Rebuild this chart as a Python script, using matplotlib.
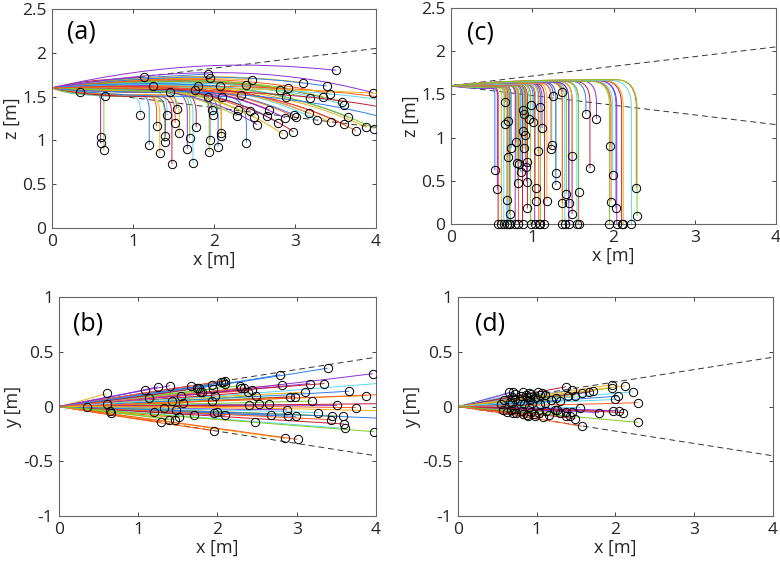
import matplotlib
matplotlib.use('Agg')
import matplotlib.pyplot as plt
from matplotlib.path import Path
from matplotlib.patches import PathPatch

plt.rcParams['font.family'] = ['Open Sans', 'DejaVu Sans']
plt.rcParams['axes.unicode_minus'] = False

# ---------------- data: panels (a)/(b) ----------------
a_x_end = [0.35, 0.66, 0.60, 0.60, 0.64, 1.09, 1.13, 1.20, 1.29, 1.33,
           1.40, 1.39, 1.42, 1.48, 1.54, 1.52, 1.57, 1.67, 1.70, 1.74,
           1.78, 1.93, 1.95, 1.93, 1.95, 1.94, 1.99, 1.97, 2.05, 2.09,
           2.09, 2.10, 2.28, 2.30, 2.39, 2.40, 2.44, 2.47, 2.53, 2.49,
           2.65, 2.68, 2.79, 2.81, 2.85, 2.88, 2.91, 2.89, 2.98, 2.99,
           3.01, 3.10, 3.17, 3.19, 3.27, 3.35, 3.39, 3.43, 3.44, 3.51,
           3.58, 3.61, 3.60, 3.66, 3.75, 3.88, 3.96, 3.98, 4.50, 4.50,
           4.50, 4.40, 4.60, 1.25, 1.46, 1.80, 1.77, 2.07, 2.33]
a_z_end = [1.55, 1.51, 1.04, 0.965, 0.885, 1.29, 1.72, 0.95, 1.16, 0.855,
           1.045, 0.985, 1.285, 0.73, 1.36, 1.20, 1.08, 0.905, 1.025, 0.737,
           1.15, 1.76, 1.71, 1.50, 1.005, 0.87, 1.29, 1.35, 0.93, 1.08,
           1.05, 1.50, 1.28, 1.35, 1.63, 0.975, 1.34, 1.69, 1.18, 1.265,
           1.28, 1.35, 1.20, 1.58, 1.07, 1.255, 1.595, 1.50, 1.10, 1.29,
           1.265, 1.66, 1.31, 1.48, 1.235, 1.49, 1.62, 1.53, 1.205, 1.80,
           1.44, 1.405, 1.185, 1.265, 1.11, 1.15, 1.545, 1.135, 1.40, 1.30,
           1.15, 1.45, 1.50, 1.62, 1.55, 1.62, 1.58, 1.62, 1.52]
a_z_mid = [1.58, 1.56, 1.53, 1.53, 1.52, 1.50, 1.70, 1.52, 1.52, 1.50,
           1.50, 1.50, 1.55, 1.50, 1.55, 1.52, 1.52, 1.55, 1.56, 1.55,
           1.55, 1.72, 1.70, 1.60, 1.55, 1.55, 1.55, 1.55, 1.55, 1.58,
           1.56, 1.62, 1.62, 1.64, 1.68, 1.50, 1.64, 1.72, 1.62, 1.64,
           1.65, 1.66, 1.65, 1.70, 1.62, 1.66, 1.72, 1.68, 1.64, 1.66,
           1.66, 1.76, 1.68, 1.70, 1.68, 1.72, 1.76, 1.74, 1.66, 1.90,
           1.72, 1.70, 1.66, 1.68, 1.66, 1.66, 1.84, 1.68, 1.62, 1.58,
           1.56, 1.64, 1.60, 1.64, 1.58, 1.65, 1.62, 1.66, 1.62]
a_kind = ['g', 'g', 'd', 'd', 'd', 'd', 'g', 'd', 'd', 'd',
          'd', 'd', 'd', 'd', 'd', 'd', 'd', 'd', 'd', 'd',
          'd', 'g', 'g', 'g', 'd', 'd', 'd', 'd', 'd', 'd',
          'd', 'g', 'g', 'g', 'g', 'd', 'g', 'g', 'g', 'g',
          'g', 'g', 'g', 'g', 'g', 'g', 'g', 'g', 'g', 'g',
          'g', 'g', 'g', 'g', 'g', 'g', 'g', 'g', 'g', 'g',
          'g', 'g', 'g', 'g', 'g', 'g', 'g', 'g', 'g', 'g',
          'g', 'g', 'g', 'g', 'g', 'g', 'g', 'g', 'g']
a_y_end = [0.00, -0.06, 0.12, 0.02, -0.04, 0.15, 0.08, -0.05, -0.14, -0.01,
           0.19, -0.12, 0.05, -0.03, 0.10, -0.10, 0.03, 0.19, -0.08, 0.17,
           0.13, 0.20, -0.22, 0.05, -0.06, 0.16, -0.05, 0.10, 0.22, 0.235,
           0.21, -0.08, 0.19, 0.17, 0.13, 0.015, 0.15, -0.14, 0.02, 0.10,
           0.02, -0.08, 0.29, 0.20, -0.29, -0.03, 0.09, -0.09, 0.09, -0.09,
           -0.30, 0.13, 0.21, 0.05, -0.055, 0.21, 0.35, -0.12, -0.09, 0.01,
           -0.09, -0.20, -0.16, 0.14, -0.01, 0.10, 0.30, -0.23, 0.24, 0.03,
           -0.12, 0.12, -0.05, 0.18, -0.12, 0.13, 0.17, 0.22, 0.17]
a_y_mid = [0.01, -0.03, 0.05, 0.01, -0.02, 0.07, 0.04, 0.00, -0.08, 0.02,
           0.10, -0.05, 0.03, 0.00, 0.06, -0.06, 0.02, 0.10, -0.03, 0.08,
           0.08, 0.10, -0.12, 0.03, -0.02, 0.07, -0.02, 0.05, 0.10, 0.12,
           0.10, -0.04, 0.10, 0.08, 0.06, 0.02, 0.08, -0.08, 0.01, 0.04,
           0.01, -0.04, 0.12, 0.10, -0.15, -0.02, 0.04, -0.05, 0.03, -0.05,
           -0.15, 0.08, 0.10, 0.02, -0.02, 0.12, 0.15, -0.06, -0.03, 0.02,
           -0.04, -0.10, -0.08, 0.06, 0.01, 0.05, 0.12, -0.12, 0.10, 0.01,
           -0.05, 0.05, 0.00, 0.08, -0.05, 0.07, 0.07, 0.10, 0.08]

# ---------------- data: panels (c)/(d) ----------------
c_x_end = [0.54, 0.57, 0.58, 0.62, 0.65, 0.67, 0.66, 0.69, 0.70, 0.70,
           0.69, 0.71, 0.72, 0.73, 0.74, 0.79, 0.80, 0.81, 0.82, 0.83,
           0.84, 0.86, 0.88, 0.88, 0.90, 0.89, 0.91, 0.90, 0.92, 0.93,
           0.94, 0.93, 0.96, 0.98, 0.98, 1.01, 1.03, 1.04, 1.04, 1.07,
           1.08, 1.10, 1.10, 1.12, 1.15, 1.18, 1.24, 1.23, 1.29, 1.29,
           1.26, 1.37, 1.37, 1.40, 1.37, 1.42, 1.45, 1.45, 1.49, 1.49,
           1.55, 1.57, 1.57, 1.66, 1.79, 1.71, 1.96, 1.99, 1.97, 1.95,
           2.03, 2.04, 2.10, 2.12, 2.22, 2.28, 2.29]
c_z_end = [0.62, 0.40, 0.0, 0.0, 0.0, 1.41, 1.16, 0.0, 1.19, 0.78,
           0.28, 0.0, 0.115, 0.0, 0.875, 0.0, 0.945, 0.71, 0.47, 0.0,
           0.70, 0.60, 1.32, 0.0, 1.27, 1.08, 1.03, 0.875, 0.66, 0.49,
           0.18, 0.72, 1.21, 1.375, 0.0, 1.175, 0.0, 0.42, 0.27, 0.84,
           0.0, 0.0, 1.355, 1.11, 0.0, 0.27, 0.915, 0.87, 0.595, 0.45,
           1.48, 1.53, 0.0, 0.0, 0.24, 0.345, 0.24, 0.0, 0.115, 0.79,
           0.0, 0.0, 0.365, 1.27, 1.22, 0.645, 0.90, 0.57, 0.26, 0.0,
           0.18, 0.0, 0.0, 0.0, 0.0, 0.42, 0.09]
c_z_top = [1.57, 1.57, 1.58, 1.58, 1.58, 1.59, 1.58, 1.59, 1.59, 1.59,
           1.59, 1.59, 1.59, 1.60, 1.60, 1.60, 1.60, 1.60, 1.60, 1.60,
           1.60, 1.61, 1.61, 1.61, 1.61, 1.61, 1.61, 1.61, 1.61, 1.61,
           1.61, 1.61, 1.62, 1.62, 1.62, 1.62, 1.62, 1.62, 1.62, 1.62,
           1.63, 1.63, 1.63, 1.63, 1.63, 1.63, 1.63, 1.63, 1.64, 1.64,
           1.64, 1.64, 1.64, 1.64, 1.64, 1.64, 1.64, 1.64, 1.65, 1.65,
           1.65, 1.65, 1.65, 1.65, 1.66, 1.65, 1.65, 1.65, 1.65, 1.65,
           1.66, 1.66, 1.66, 1.66, 1.66, 1.67, 1.67]
c_y_end = [0.02, -0.03, 0.06, -0.05, 0.13, -0.03, 0.04, 0.09, 0.135, -0.06,
           0.03, -0.02, 0.11, 0.07, -0.06, 0.05, 0.10, -0.04, 0.13, -0.07,
           0.02, 0.105, 0.09, -0.08, 0.12, -0.09, 0.06, 0.00, 0.09, -0.05,
           0.03, 0.11, -0.07, -0.09, 0.08, 0.135, -0.06, 0.105, 0.02, 0.12,
           -0.10, 0.105, 0.03, -0.04, -0.08, 0.06, 0.08, -0.03, -0.06, 0.05,
           -0.03, 0.18, -0.09, 0.10, -0.05, -0.09, 0.15, -0.05, -0.11, 0.10,
           -0.01, -0.18, 0.12, 0.13, -0.055, 0.14, 0.20, 0.065, -0.04, 0.17,
           0.095, -0.04, -0.055, 0.19, 0.135, 0.035, -0.145]
c_y_mid = [0.01, -0.01, 0.03, -0.02, 0.06, -0.01, 0.02, 0.04, 0.06, -0.03,
           0.02, 0.00, 0.05, 0.03, -0.03, 0.02, 0.05, -0.02, 0.06, -0.03,
           0.01, 0.05, 0.04, -0.04, 0.05, -0.04, 0.03, 0.00, 0.04, -0.02,
           0.01, 0.05, -0.03, -0.04, 0.04, 0.06, -0.03, 0.05, 0.01, 0.05,
           -0.05, 0.05, 0.01, -0.02, -0.04, 0.03, 0.04, -0.01, -0.02, 0.02,
           -0.01, 0.09, -0.04, 0.05, -0.02, -0.04, 0.07, -0.02, -0.05, 0.05,
           0.00, -0.08, 0.05, 0.06, -0.02, 0.06, 0.09, 0.03, -0.02, 0.08,
           0.04, -0.01, -0.02, 0.09, 0.06, 0.01, -0.07]

colors = ['#2b7de9', '#ff5a1f', '#f2b20f', '#8e2fd6', '#7ccb2a', '#5ed6f2', '#c21a3a']
x_ticks = [0, 1, 2, 3, 4]
z_ticks = [0, 0.5, 1, 1.5, 2, 2.5]
y_ticks = [-1, -0.5, 0, 0.5, 1]

Z0 = 1.6
LW = 0.7


def drop_path(xe, ze, zt):
    rx = max(0.12 * xe - 0.02, 0.03)
    rz = 0.14 * xe
    xk = xe - rx
    verts = [(0, Z0), (0.35 * xk, zt), (0.7 * xk, zt), (xk, zt)]
    codes = [Path.MOVETO, Path.CURVE4, Path.CURVE4, Path.CURVE4]
    if ze >= zt - rz:
        verts += [(xe, zt), (xe, ze)]
        codes += [Path.CURVE3, Path.CURVE3]
    else:
        verts += [(xe, zt), (xe, zt - rz), (xe, ze)]
        codes += [Path.CURVE3, Path.CURVE3, Path.LINETO]
    return Path(verts, codes)


def glide_path(xe, ze, zm):
    verts = [(0, Z0), (0.4 * xe, zm), (0.7 * xe, zm), (xe, ze)]
    codes = [Path.MOVETO, Path.CURVE4, Path.CURVE4, Path.CURVE4]
    return Path(verts, codes)


def lateral_path(xe, ye, ym):
    verts = [(0, 0), (0.5 * xe, ym), (xe, ye)]
    codes = [Path.MOVETO, Path.CURVE3, Path.CURVE3]
    return Path(verts, codes)


def add(ax, path, col):
    ax.add_patch(PathPatch(path, fill=False, edgecolor=col, lw=LW, zorder=2))


def style(ax, yt, ylim, ylabel):
    ax.set_xlim(0, 4)
    ax.set_ylim(*ylim)
    ax.set_xticks(x_ticks)
    ax.set_yticks(yt)
    ax.set_xticklabels(['%g' % t for t in x_ticks])
    ax.set_yticklabels(['%g' % t for t in yt])
    ax.tick_params(direction='in', length=3, width=0.6, labelsize=12.5,
                   colors='#262626', top=True, right=True, pad=4)
    for s in ax.spines.values():
        s.set_color('#666666')
        s.set_linewidth(0.8)
    ax.set_xlabel('x [m]', fontsize=13, color='#262626', labelpad=1)
    ax.set_ylabel(ylabel, fontsize=13, color='#262626', labelpad=1)


fig = plt.figure(figsize=(7.8, 5.7), dpi=100)
ax_a = fig.add_axes([0.0667, 0.600, 0.4154, 0.3842])
ax_c = fig.add_axes([0.5782, 0.607, 0.4167, 0.3790])
ax_b = fig.add_axes([0.0756, 0.0947, 0.4064, 0.3842])
ax_d = fig.add_axes([0.5872, 0.0947, 0.4038, 0.3842])

for ax in (ax_a, ax_c):
    ax.plot([0, 4], [Z0, 2.05], color='#333333', lw=0.7, dashes=(6, 4), zorder=1)
    ax.plot([0, 4], [Z0, 1.15], color='#333333', lw=0.7, dashes=(6, 4), zorder=1)
for ax in (ax_b, ax_d):
    ax.plot([0, 4], [0, 0.45], color='#333333', lw=0.7, dashes=(6, 4), zorder=1)
    ax.plot([0, 4], [0, -0.45], color='#333333', lw=0.7, dashes=(6, 4), zorder=1)

# panels (a) and (b)
for i in range(len(a_x_end)):
    col = colors[i % len(colors)]
    if a_kind[i] == 'd':
        add(ax_a, drop_path(a_x_end[i], a_z_end[i], a_z_mid[i]), col)
    else:
        add(ax_a, glide_path(a_x_end[i], a_z_end[i], a_z_mid[i]), col)
    add(ax_b, lateral_path(a_x_end[i], a_y_end[i], a_y_mid[i]), col)
ax_a.plot(a_x_end, a_z_end, 'o', mfc='none', mec='k', ms=6, mew=0.7, zorder=3)
ax_b.plot(a_x_end, a_y_end, 'o', mfc='none', mec='k', ms=6, mew=0.7, zorder=3)

# panels (c) and (d)
for i in range(len(c_x_end)):
    col = colors[(i * 3) % len(colors)]
    add(ax_c, drop_path(c_x_end[i], c_z_end[i], c_z_top[i]), col)
    add(ax_d, lateral_path(c_x_end[i], c_y_end[i], c_y_mid[i]), col)
ax_c.plot(c_x_end, c_z_end, 'o', mfc='none', mec='k', ms=6, mew=0.7, zorder=3, clip_on=False)
ax_d.plot(c_x_end, c_y_end, 'o', mfc='none', mec='k', ms=6, mew=0.7, zorder=3)

style(ax_a, z_ticks, (0, 2.5), 'z [m]')
style(ax_c, z_ticks, (0, 2.5), 'z [m]')
style(ax_b, y_ticks, (-1, 1), 'y [m]')
style(ax_d, y_ticks, (-1, 1), 'y [m]')

ax_a.text(0.18, 2.24, '(a)', fontsize=18, va='center', ha='left')
ax_c.text(0.2, 2.21, '(c)', fontsize=18, va='center', ha='left')
ax_b.text(0.18, 0.755, '(b)', fontsize=18, va='center', ha='left')
ax_d.text(0.22, 0.755, '(d)', fontsize=18, va='center', ha='left')

fig.savefig('out.png', dpi=100)
